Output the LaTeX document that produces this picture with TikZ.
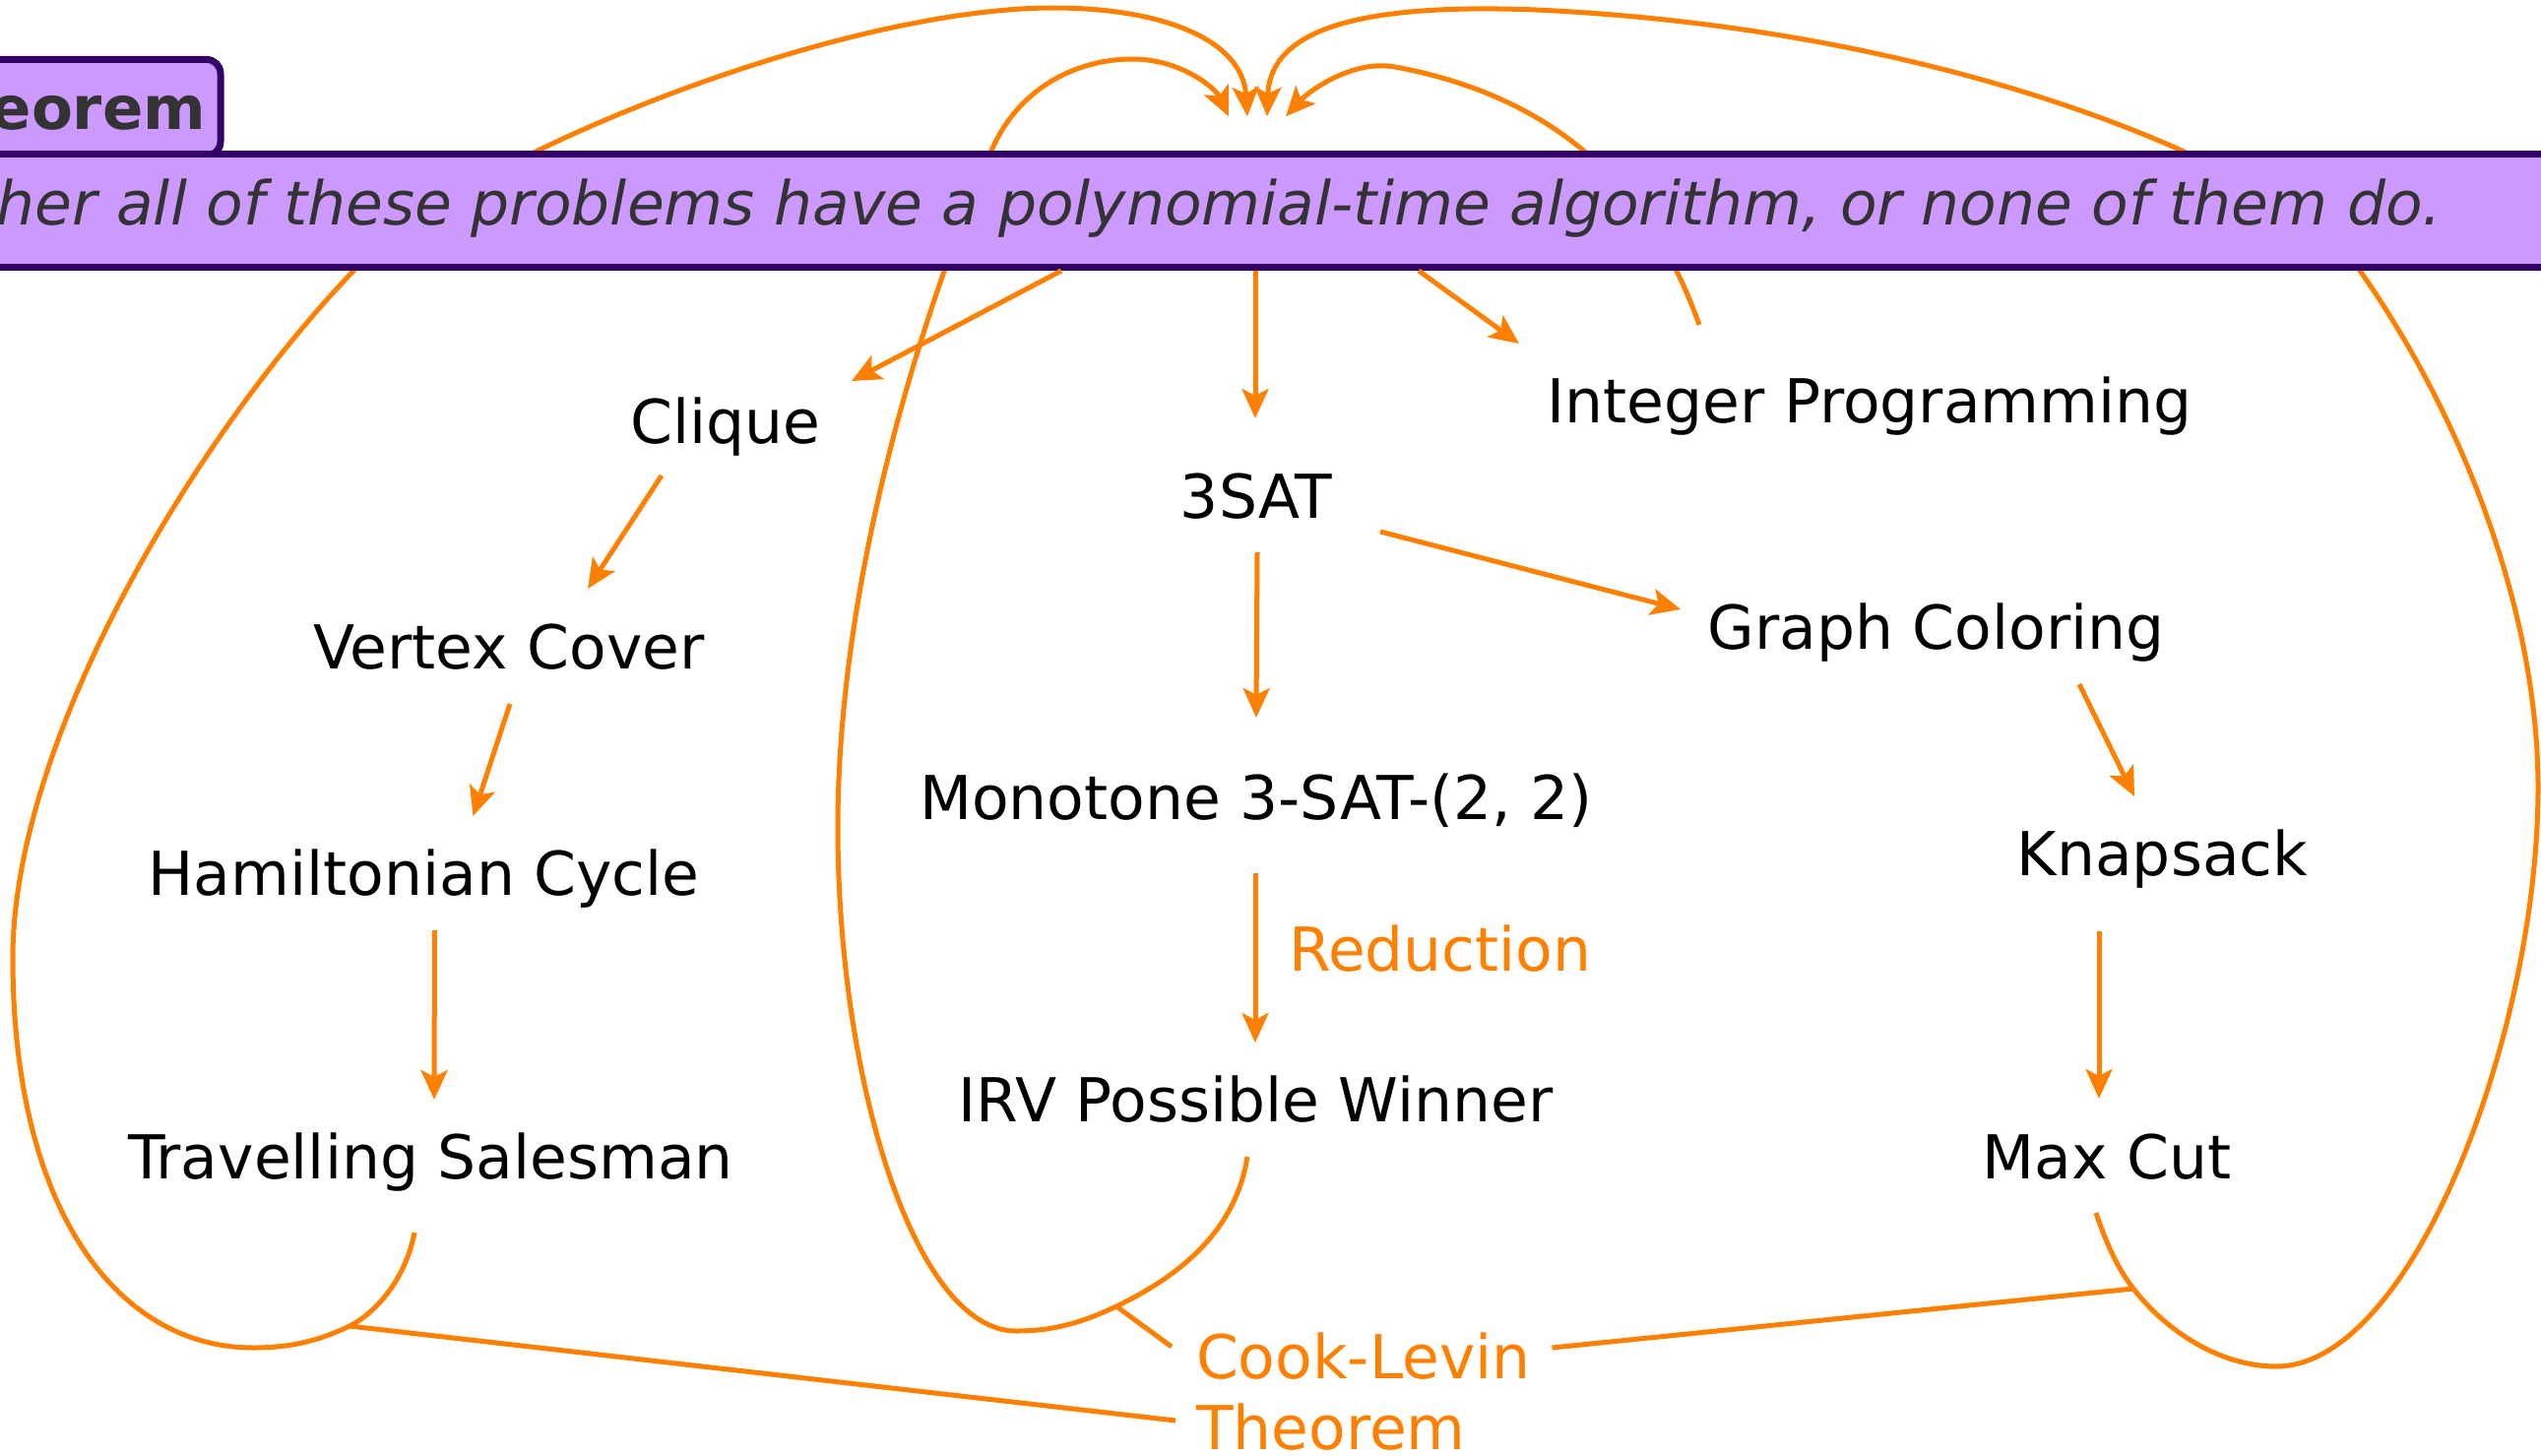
\documentclass[tikz,border=0pt]{standalone}
\usepackage{fontspec}
\setmainfont{DejaVu Sans}
\usetikzlibrary{arrows.meta,calc,backgrounds}
\definecolor{reduce}{HTML}{FF8000}
\definecolor{lilac}{HTML}{CC99FF}
\definecolor{plum}{HTML}{330066}
\definecolor{ink}{HTML}{333333}
\tikzset{
  lbl/.style={font=\fontsize{61.5}{73}\selectfont, inner sep=0pt, outer sep=0pt, anchor=base},
  note/.style={lbl, text=reduce, anchor=base west},
  arr/.style={draw=reduce, line width=5pt, -{Stealth[length=30pt,width=27pt,inset=7pt]}},
  link/.style={draw=reduce, line width=5pt},
  boxline/.style={draw=plum, fill=lilac, line width=7pt},
}
\begin{document}
\begin{tikzpicture}[x=1pt,y=-1pt]
\clip (0,0) rectangle (2581,1479);

% problems
\node[lbl] (clique) at (737,450)   {Clique};
\node[lbl] (vc)     at (517,679)   {Vertex Cover};
\node[lbl] (hc)     at (430.5,909) {Hamiltonian Cycle};
\node[lbl] (ts)     at (437.5,1197){Travelling Salesman};
\node[lbl] (sat)    at (1276,526)  {3SAT};
\node[lbl] (ip)     at (1899,429)  {Integer Programming};
\node[lbl] (gc)     at (1966.5,659){Graph Coloring};
\node[lbl] (mono)   at (1276,832)  {Monotone 3-SAT-(2, 2)};
\node[lbl] (knap)   at (2196.5,889){Knapsack};
\node[lbl] (irv)    at (1275.5,1139){IRV Possible Winner};
\node[lbl] (mc)     at (2140,1197) {Max Cut};

% orange labels
\node[note] (red)     at (1309,986)  {Reduction};
\node[note] (cook)    at (1215,1400) {Cook-Levin};
\node[note] (cookthm) at (1215,1472) {Theorem};

% theorem tab and banner
\draw[boxline, rounded corners=14pt] (-40,60.5) rectangle (224,158);
\node[lbl, anchor=base east, text=ink, font=\fontsize{61}{73}\selectfont\bfseries] (tab) at (209,132) {Theorem};
\node[boxline, minimum width=2660pt, minimum height=115.2pt, inner sep=0pt, outer sep=0pt] (banner) at (1290,213.9) {};
\node[lbl, anchor=base east, text=ink, font=\fontsize{61.5}{73}\selectfont\itshape] (claim) at (2480,229)
  {Either all of these problems have a polynomial-time algorithm, or none of them do.};

% arrow targets above the banner
\coordinate (t1) at ($(banner.north)+(-42,-38)$);
\coordinate (t2) at ($(banner.north)+(-23,-38)$);
\coordinate (t3) at ($(banner.north)+(-3,-38)$);
\coordinate (t4) at ($(banner.north)+(16,-38)$);

% points where the Cook-Levin lines meet the loops
\coordinate (kA) at (355,1347);
\coordinate (kB) at (1134,1327);
\coordinate (kC) at (2167,1309);

\begin{pgfonlayer}{background}
  % loop from Travelling Salesman
  \draw[arr] ($(ts.base)+(-16.5,55)$) .. controls (413,1295) and (385,1332) .. (kA)
    .. controls (320,1364) and (290,1369) .. (257,1369)
    .. controls (120,1369) and (13,1230) .. (13,973)
    .. controls (13,750) and (200,440) .. (362,272)
    .. controls (470,160) and (850,8) .. (1070,8)
    .. controls (1180,8) and (1262,40) .. (t2);
  % loop from IRV Possible Winner
  \draw[arr] ($(irv.base)+(-8.5,36)$) .. controls (1255,1250) and (1200,1295) .. (kB)
    .. controls (1094,1346) and (1065,1352) .. (1032,1352)
    .. controls (930,1352) and (851,1100) .. (851,840)
    .. controls (851,600) and (930,330) .. (1007,153)
    .. controls (1037,84) and (1100,60) .. (1150,60)
    .. controls (1200,60) and (1235,90) .. (t1);
  % loop from Max Cut
  \draw[arr] ($(mc.base)+(-11,35)$) .. controls (2140,1265) and (2152,1290) .. (kC)
    .. controls (2200,1352) and (2255,1388) .. (2312,1388)
    .. controls (2450,1388) and (2578,1050) .. (2578,800)
    .. controls (2578,620) and (2500,420) .. (2395,272)
    .. controls (2330,180) and (2000,30) .. (1560,10)
    .. controls (1380,3) and (1290,30) .. (t3);
  % loop from Integer Programming
  \draw[arr] ($(ip.base)+(-173,-99)$) .. controls (1680,200) and (1590,100) .. (1417,68)
    .. controls (1375,60) and (1330,92) .. (t4);
\end{pgfonlayer}

% reductions
\draw[arr] ($(banner.south)+(-212,3.5)$) -- ($(clique.base)+(128,-63)$);
\draw[arr] ($(banner.south)+(-15,3.5)$) -- ($(sat.base)+(-1,-101)$);
\draw[arr] ($(banner.south)+(151,3.5)$) -- ($(ip.base)+(-356,-80)$);
\draw[arr] ($(clique.base)+(-65,33)$) -- ($(vc.base)+(80,-81)$);
\draw[arr] ($(vc.base)+(1,36)$) -- ($(hc.base)+(50,-80)$);
\draw[arr] ($(hc.base)+(11,36)$) -- ($(ts.base)+(3.5,-80)$);
\draw[arr] ($(sat.base)+(1,35)$) -- ($(mono.base)+(0,-103)$);
\draw[arr] ($(sat.base)+(126,14)$) -- ($(gc.base)+(-259.5,-40)$);
\draw[arr] ($(mono.base)+(-1,55)$) -- ($(irv.base)+(-0.5,-80)$);
\draw[arr] ($(gc.base)+(145.5,36)$) -- ($(knap.base)+(-28.5,-80)$);
\draw[arr] ($(knap.base)+(-64.5,57)$) -- ($(mc.base)+(-8,-81)$);

% Cook-Levin callout lines
\draw[link] (kA) -- ($(cookthm.base west)+(-21,-29)$);
\draw[link] (kB) -- ($(cook.base west)+(-25,-32)$);
\draw[link] (kC) -- ($(cook.base east)+(22,-31)$);
\end{tikzpicture}
\end{document}
